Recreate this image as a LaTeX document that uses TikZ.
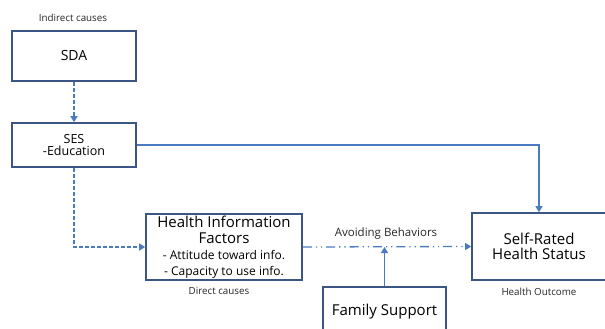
\documentclass[tikz,border=0pt]{standalone}
\usepackage{fontspec}
\setmainfont{Open Sans}
\usetikzlibrary{arrows.meta}
\definecolor{boxline}{HTML}{3D5585}
\definecolor{linkblue}{HTML}{4A7BC0}
\begin{document}
\begin{tikzpicture}[x=1pt,y=-1pt,
  box/.style={draw=boxline,line width=1.6pt,fill=white,inner sep=0pt,align=center,
    font=\fontsize{14}{16}\selectfont},
  caption/.style={inner sep=0pt,font=\fontsize{9.8}{11}\selectfont,text=black!85},
  link/.style={draw=linkblue,line width=1.3pt,
    -{Triangle[width=7pt,length=6pt]}},
  linkdash/.style={link,dash pattern=on 4pt off 2pt},
  linkdashdot/.style={link,dash pattern=on 9pt off 4pt on 1.2pt off 4pt on 1.2pt off 4pt}]
\useasboundingbox (0,0) rectangle (605,329);
\clip (0,0) rectangle (605,329);

% boxes
\node[box,minimum width=124pt,minimum height=50pt] (sda) at (74,56) {SDA};
\node[box,minimum width=124pt,minimum height=44pt,
  font=\fontsize{12.5}{12.5}\selectfont] (ses) at (74,145) {SES\\-Education};
\node[box,minimum width=156pt,minimum height=66pt] (hif) at (224,247)
  {{\fontsize{15}{14.5}\selectfont Health Information}\\
   {\fontsize{15}{14}\selectfont Factors}\\
   {\fontsize{12}{13}\selectfont - Attitude toward info.}\\
   {\fontsize{12}{12.5}\selectfont - Capacity to use info.}};
\node[box,minimum width=134pt,minimum height=67pt,
  font=\fontsize{15}{15}\selectfont] (srhs) at (539,246.5) {Self-Rated\\Health Status};
\node[box,minimum width=123pt,minimum height=50pt,
  font=\fontsize{15}{16}\selectfont] (fam) at (384.5,312) {Family Support};

% captions
\node[caption] (indirect) at (73,18) {Indirect causes};
\node[caption] (direct) at (219,291) {Direct causes};
\node[caption] (outcome) at (539,292) {Health Outcome};
\node[inner sep=0pt,font=\fontsize{11.5}{13}\selectfont,text=black!85] (avoid) at (386,234) {Avoiding Behaviors};

% connectors
\draw[linkdash] (sda.south) -- (ses.north);
\draw[linkdash] (ses.south) |- (hif.west);
\draw[link] (ses.east) -| (srhs.north);
\draw[linkdashdot] (hif.east) -- (srhs.west);
\coordinate (join) at (fam.north |- hif.east);
\draw[link] (fam.north) -- (join);
\end{tikzpicture}
\end{document}
